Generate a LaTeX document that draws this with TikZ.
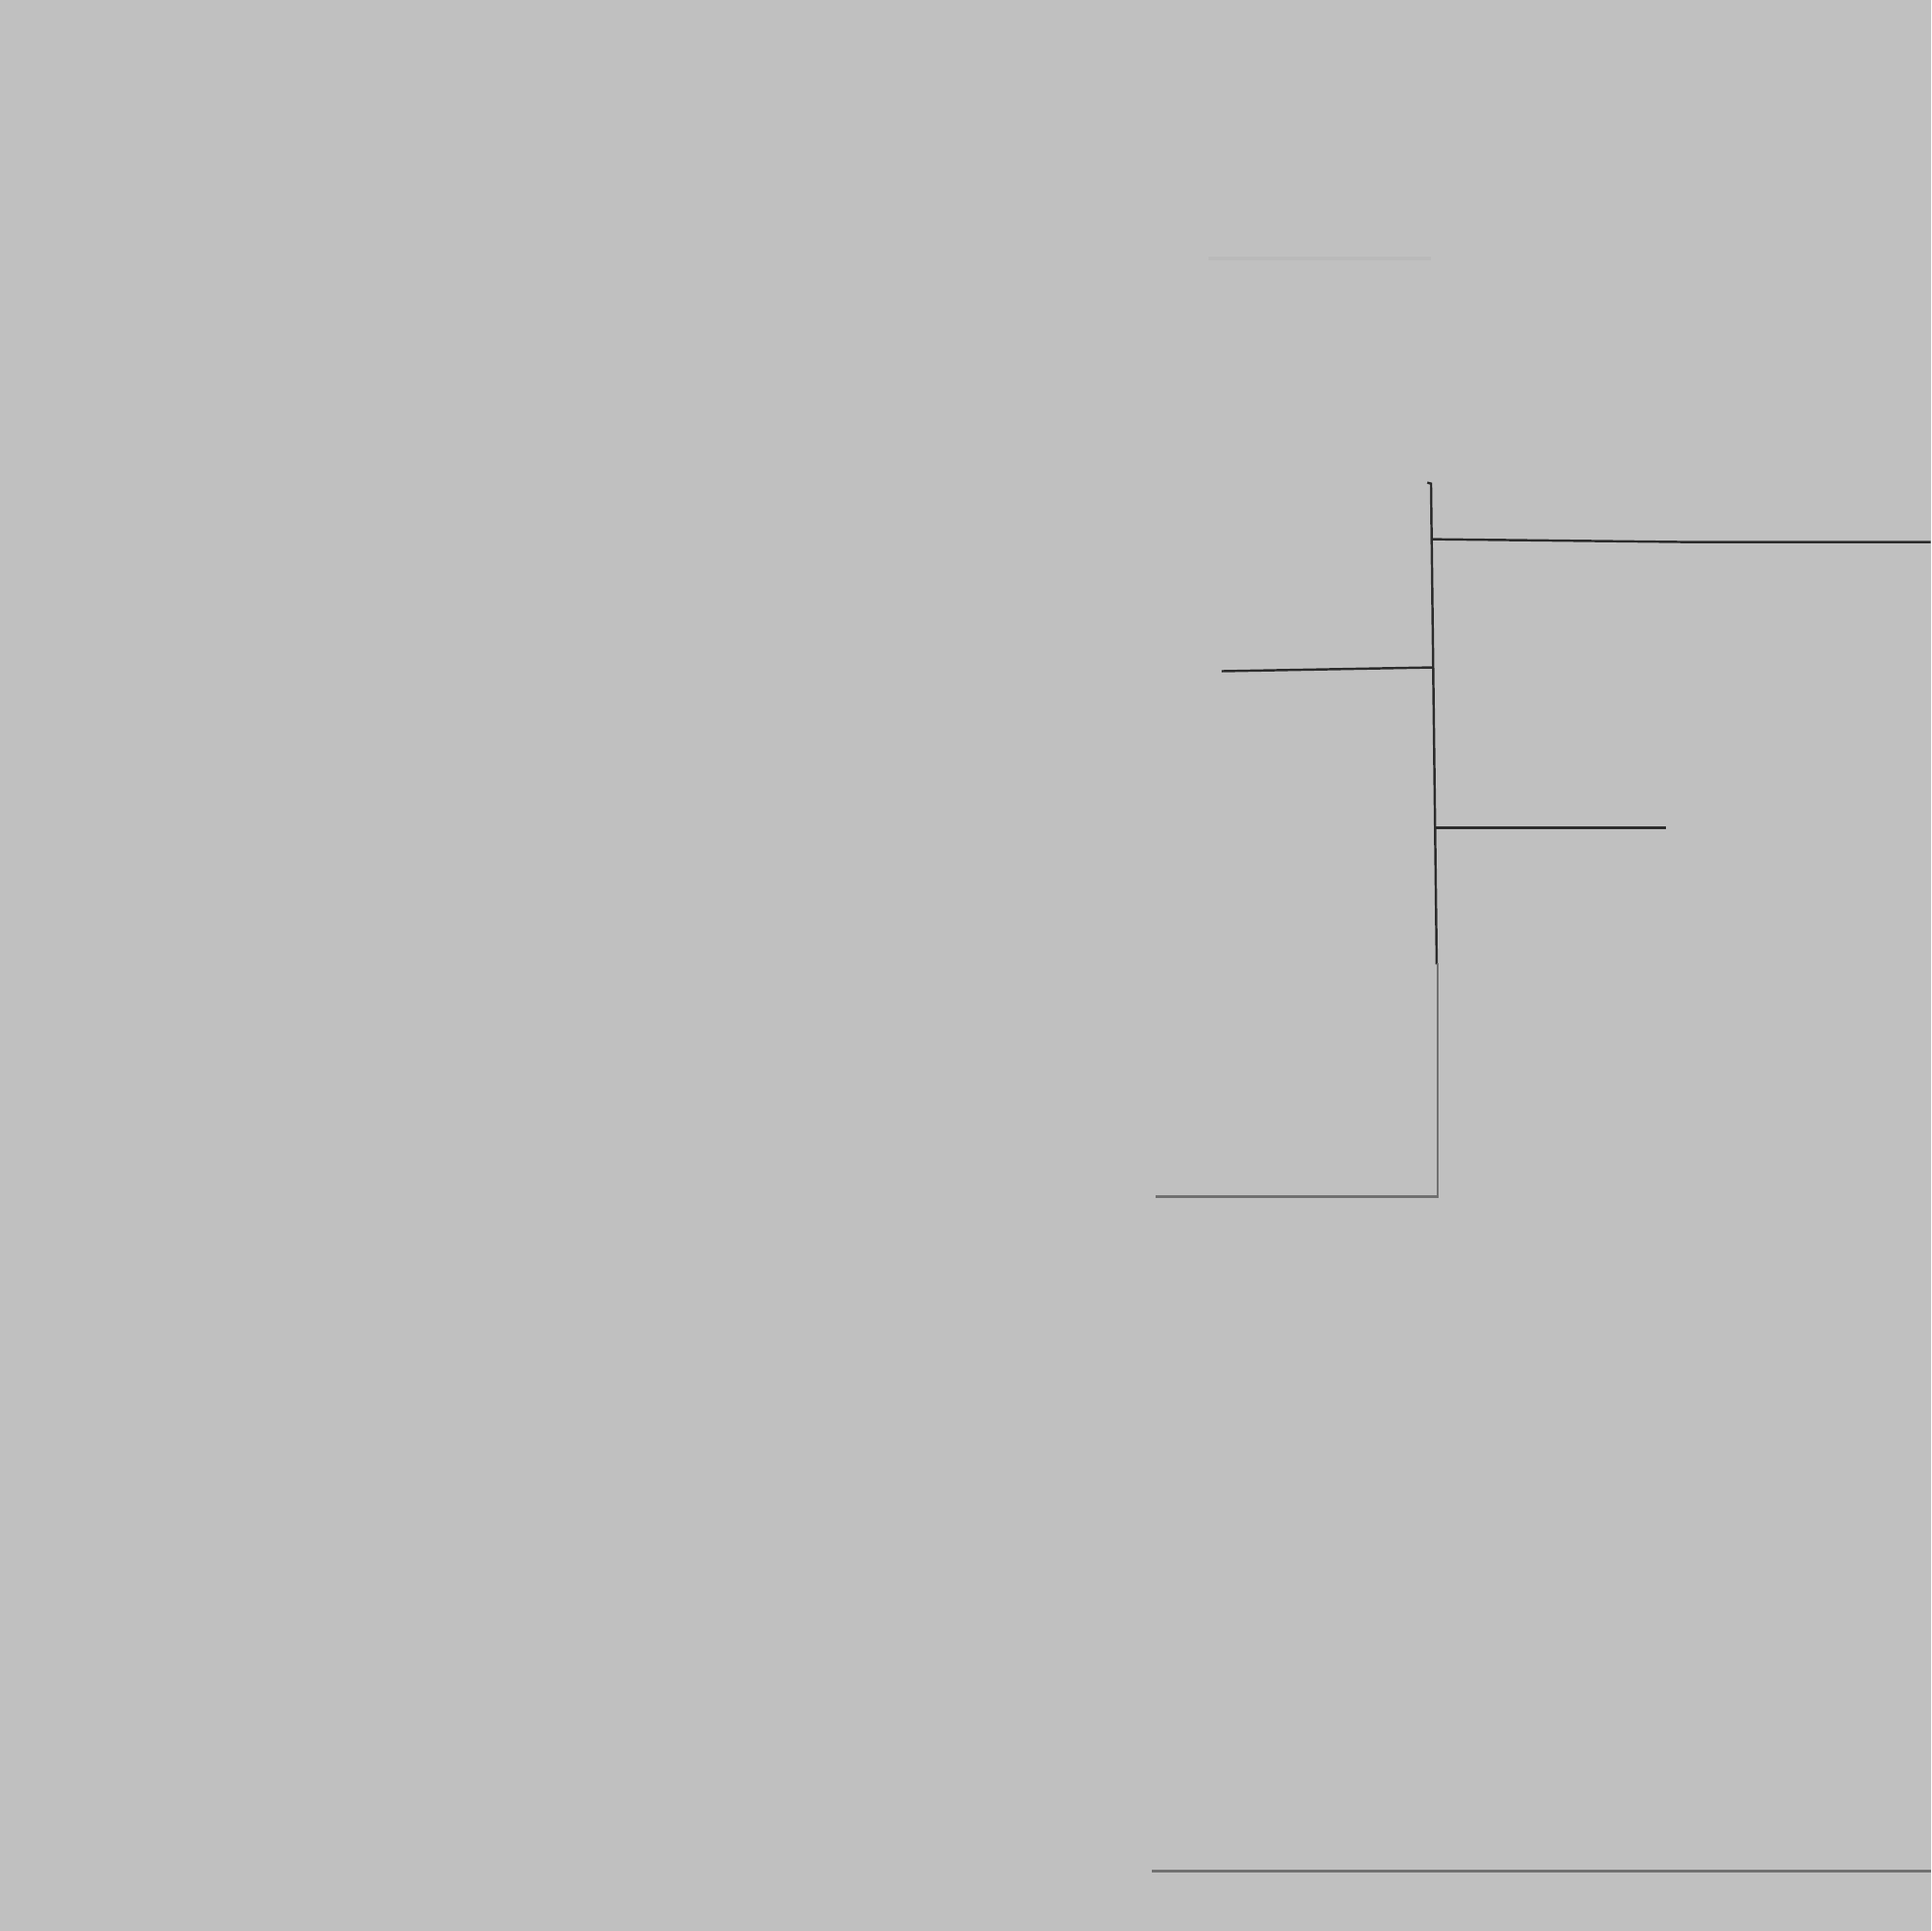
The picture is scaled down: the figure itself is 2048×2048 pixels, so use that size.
\documentclass[tikz,border=0pt]{standalone}
\usepackage{tikz}
\definecolor{bg}{gray}{0.753}
\definecolor{faint}{gray}{0.73}
\definecolor{ink}{gray}{0.17}
\definecolor{rule}{gray}{0.44}

\begin{document}
\begin{tikzpicture}[x=0.01cm, y=-0.01cm, ink line/.style={draw=ink, line width=0.7pt}, rule line/.style={draw=rule, line width=0.8pt}]
    \fill[bg] (0, 0) rectangle (2048, 2048);
    \draw[faint, line width=1pt] (1282, 274) -- (1518, 274);
    % spine
    \coordinate (top) at (1518, 513);
    \coordinate (bend) at (1524, 1023);
    \draw[ink line] (1514, 512) -- (top) -- (bend);
    \draw[ink line] (1519, 572) -- (1791, 575) -- (2048, 575);
    \draw[ink line] (1520, 708) -- (1296, 712);
    \draw[ink line] (1522, 878) -- (1767, 878);
    % lower part
    \coordinate (corner) at (1525, 1269);
    \draw[rule line] (bend) -- (1525, 1023) -- (corner) -- (1226, 1269);
    \draw[rule line] (1222, 1985) -- (2048, 1985);
\end{tikzpicture}
\end{document}
